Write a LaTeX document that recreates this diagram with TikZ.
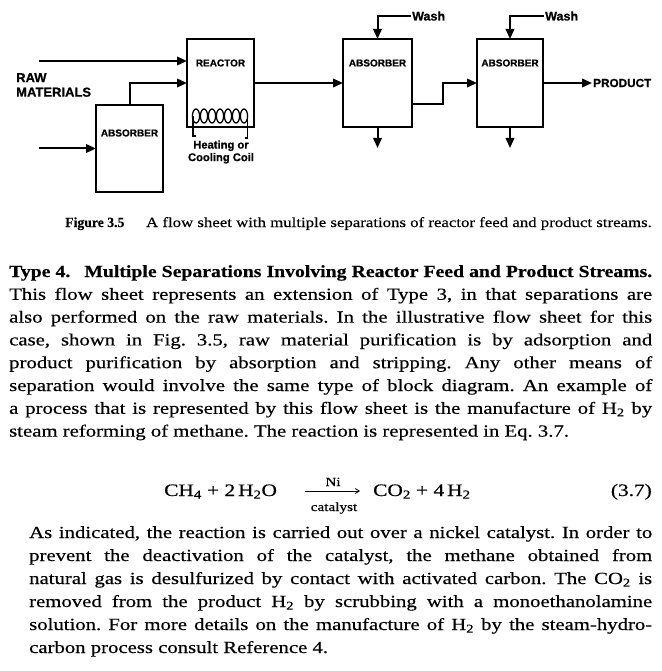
\documentclass[tikz,border=0pt]{standalone}
\usepackage{fontspec}
\setmainfont{Liberation Serif}[FakeStretch=1.22,FakeBold=0.4]
\newfontfamily\headfont{Liberation Serif}[FakeStretch=1.16,FakeBold=0.4]
\newfontfamily\capfont{Liberation Serif}[FakeStretch=1.2,FakeBold=0.3]
\newfontfamily\figfont{Liberation Serif}[FakeStretch=0.98,FakeBold=0.3]
\newfontfamily\labfont{Liberation Sans}[FakeStretch=1.0,FakeBold=0.8]
\usetikzlibrary{arrows.meta}
\frenchspacing
\newcommand\pline[4]{\node[anchor=base west,inner sep=0pt] (#1) at (#2) {\makebox[#3][s]{#4}};}
\newcommand\plast[3]{\node[anchor=base west,inner sep=0pt] (#1) at (#2) {#3};}
\tikzset{
  unit/.style={draw, line width=2.2pt, minimum width=#1, inner sep=0pt, outer sep=0pt},
  lab/.style={font=\labfont\bfseries\fontsize{10}{12}\selectfont, inner sep=0pt},
  biglab/.style={font=\labfont\bfseries\fontsize{13}{14.5}\selectfont, inner sep=1pt},
  flow/.style={line width=2pt, -{Triangle[length=10pt,width=8.5pt]}},
  body/.style={font=\fontsize{17}{20}\selectfont}
}
\begin{document}
\begin{tikzpicture}[x=1pt,y=-1pt]
\fill[white] (0,0) rectangle (661,671);
\useasboundingbox (0,0) rectangle (661,671);

% units
\node[unit=67pt, minimum height=88pt] (reactor) at (220.5,83) {};
\node[unit=67pt, minimum height=87pt] (ab0) at (129.5,148.5) {};
\node[unit=69pt, minimum height=88pt] (ab1) at (377.5,83) {};
\node[unit=66pt, minimum height=88pt] (ab2) at (510,83) {};

\node[lab] (treactor) at (220.5,63) {REACTOR};
\node[lab] (tab0) at (129.5,133) {ABSORBER};
\node[lab] (tab1) at (377.5,63) {ABSORBER};
\node[lab] (tab2) at (510,63) {ABSORBER};

% coil
\foreach \k in {0,...,6}{
  \draw[line width=1.3pt] (196+8*\k,116) ellipse [x radius=3.6, y radius=7];
}
\draw[line width=1.3pt] (193,116) -- (193,136) -- (196,136);
\draw[line width=1.3pt] (247.5,116) -- (247.5,138) -- (245,138);
\node[biglab, font=\labfont\bfseries\fontsize{11.2}{12.5}\selectfont, align=center] (tcoil) at (221,152) {Heating or\\Cooling Coil};

% labels
\node[biglab, anchor=west, align=left] (traw) at (15,85) {RAW\\MATERIALS};
\node[biglab, font=\labfont\bfseries\fontsize{11.75}{14}\selectfont, anchor=west] (product) at (592,83) {PRODUCT};
\node[biglab, font=\labfont\bfseries\fontsize{12.5}{14}\selectfont, anchor=west] (wash1) at (411,16) {Wash};
\node[biglab, font=\labfont\bfseries\fontsize{12.5}{14}\selectfont, anchor=west] (wash2) at (544,16) {Wash};

% free ends
\coordinate (rawin1) at (39,61);
\coordinate (rawin2) at (39,148.5);
\coordinate (out1) at (377.5,148);
\coordinate (out2) at (510,148);

% streams
\draw[flow] (rawin1) -- (reactor.west |- rawin1);
\draw[flow] (rawin2) -- (ab0.west);
\draw[flow] (ab0.north) |- (reactor.west);
\draw[flow] (reactor.east) -- (ab1.west);
\draw[flow] ([yshift=-21pt]ab1.east) -- ++(31,0) |- (ab2.west);
\draw[flow] (ab2.east) -- (product.west);
\draw[flow] (wash1.west) -| (ab1.north);
\draw[flow] (wash2.west) -| (ab2.north);
\draw[flow] (ab1.south) -- (out1);
\draw[flow] (ab2.south) -- (out2);

% caption
\node[anchor=base west, inner sep=0pt, font=\figfont\bfseries\fontsize{14}{16}\selectfont] (figno) at (65,227) {Figure 3.5};
\node[anchor=base east, inner sep=0pt, font=\capfont\fontsize{14}{16}\selectfont] (caption) at (652,227) {A flow sheet with multiple separations of reactor feed and product streams.};

% paragraph 1
\begin{scope}[body]
\node[anchor=base west,inner sep=0pt] (h1) at (9,277) {\makebox[643pt][s]{\headfont\bfseries Type 4.\hspace{14pt}Multiple Separations Involving Reactor Feed and Product Streams.}};
\pline{a2}{9,299.8}{643pt}{This flow sheet represents an extension of Type 3, in that separations are}
\pline{a3}{9,322.6}{643pt}{also performed on the raw materials. In the illustrative flow sheet for this}
\pline{a4}{9,345.4}{643pt}{case, shown in Fig. 3.5, raw material purification is by adsorption and}
\pline{a5}{9,368.2}{643pt}{product purification by absorption and stripping. Any other means of}
\pline{a6}{9,391}{643pt}{separation would involve the same type of block diagram. An example of}
\pline{a7}{9,413.8}{643pt}{a process that is represented by this flow sheet is the manufacture of H\textsubscript{2} by}
\plast{a8}{9,436.6}{steam reforming of methane. The reaction is represented in Eq. 3.7.}

% equation
\node[anchor=base west, inner sep=0pt, font=\fontsize{17.5}{20}\selectfont] (eql) at (164,496) {CH\textsubscript{4} + 2\,H\textsubscript{2}O};
\node[anchor=base west, inner sep=0pt, font=\fontsize{17.5}{20}\selectfont] (eqr) at (373,496) {CO\textsubscript{2} + 4\,H\textsubscript{2}};
\node[anchor=base east, inner sep=0pt, font=\fontsize{17.5}{20}\selectfont] (eqn) at (652,496) {(3.7)};
\coordinate (arrA) at (305,491);
\coordinate (arrB) at (360,491);
\draw[line width=0.8pt, -{Straight Barb[length=4pt,width=5pt]}] (arrA) -- (arrB);
\node[anchor=base, inner sep=0pt, font=\fontsize{12.5}{14}\selectfont] (ni) at (333,486) {Ni};
\node[anchor=base, inner sep=0pt, font=\fontsize{12.5}{14}\selectfont] (cat) at (334,511) {catalyst};

% paragraph 2
\pline{b1}{29,538}{623pt}{As indicated, the reaction is carried out over a nickel catalyst. In order to}
\pline{b2}{29,561}{623pt}{prevent the deactivation of the catalyst, the methane obtained from}
\pline{b3}{29,584}{623pt}{natural gas is desulfurized by contact with activated carbon. The CO\textsubscript{2} is}
\pline{b4}{29,607}{623pt}{removed from the product H\textsubscript{2} by scrubbing with a monoethanolamine}
\pline{b5}{29,630}{623pt}{solution. For more details on the manufacture of H\textsubscript{2} by the steam-hydro-}
\plast{b6}{29,653}{carbon process consult Reference 4.}
\end{scope}
\end{tikzpicture}
\end{document}
